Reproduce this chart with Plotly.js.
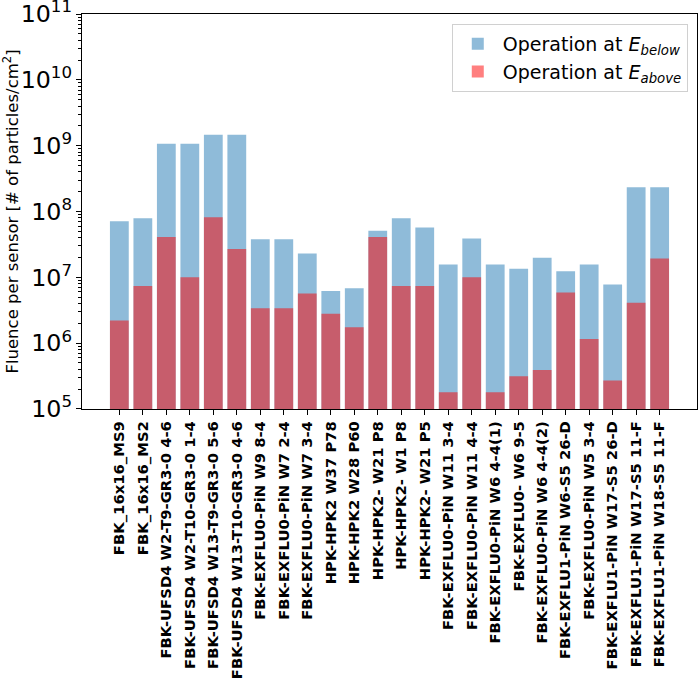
<!DOCTYPE html>
<html>
<head>
<meta charset="utf-8">
<script src="https://cdn.plot.ly/plotly-3.0.1.min.js"></script>
<style>
  html, body { margin: 0; padding: 0; background: #fff; }
  #chart { width: 699px; height: 679px; }
</style>
</head>
<body>
<div id="chart"></div>
<script>
const sensors = [
    'FBK_16x16_MS9', 'FBK_16x16_MS2',
    'FBK-UFSD4 W2-T9-GR3-0 4-6', 'FBK-UFSD4 W2-T10-GR3-0 1-4',
    'FBK-UFSD4 W13-T9-GR3-0 5-6', 'FBK-UFSD4 W13-T10-GR3-0 4-6',
    'FBK-EXFLU0-PiN W9 8-4', 'FBK-EXFLU0-PiN W7 2-4', 'FBK-EXFLU0-PiN W7 3-4',
    'HPK-HPK2 W37 P78', 'HPK-HPK2 W28 P60', 'HPK-HPK2- W21 P8',
    'HPK-HPK2- W1 P8', 'HPK-HPK2- W21 P5',
    'FBK-EXFLU0-PiN W11 3-4', 'FBK-EXFLU0-PiN W11 4-4',
    'FBK-EXFLU0-PiN W6 4-4(1)', 'FBK-EXFLU0- W6 9-5',
    'FBK-EXFLU0-PiN W6 4-4(2)', 'FBK-EXFLU1-PiN W6-S5 26-D',
    'FBK-EXFLU0-PiN W5 3-4', 'FBK-EXFLU1-PiN W17-S5 26-D',
    'FBK-EXFLU1-PiN W17-S5 11-F', 'FBK-EXFLU1-PiN W18-S5 11-F'
];

// fluence when operated at E_below
const fluenceBelow = [
    7.1e7, 7.9e7, 1.07e9, 1.07e9, 1.47e9, 1.47e9,
    3.8e7, 3.8e7, 2.3e7, 6.2e6, 6.8e6, 5.1e7,
    7.9e7, 5.7e7, 1.57e7, 3.9e7, 1.57e7, 1.35e7,
    1.98e7, 1.24e7, 1.57e7, 7.8e6, 2.33e8, 2.33e8
];

// fluence when operated at E_above
const fluenceAbove = [
    2.2e6, 7.4e6, 4.1e7, 1.0e7, 8.2e7, 2.7e7,
    3.4e6, 3.4e6, 5.7e6, 2.8e6, 1.74e6, 4.1e7,
    7.4e6, 7.4e6, 1.8e5, 1.0e7, 1.8e5, 3.15e5,
    3.9e5, 5.9e6, 1.16e6, 2.7e5, 4.1e6, 1.93e7
];

const FONT = 'DejaVu Sans, sans-serif';

const traces = [
    {
        type: 'bar',
        x: sensors,
        y: fluenceBelow,
        name: 'Operation at <i>E</i><sub><i>below</i></sub>',
        width: 0.8,
        marker: { color: 'rgba(31,119,180,0.5)', line: { width: 0 } },
    },
    {
        type: 'bar',
        x: sensors,
        y: fluenceAbove,
        name: 'Operation at <i>E</i><sub><i>above</i></sub>',
        width: 0.8,
        marker: { color: 'rgba(255,0,0,0.5)', line: { width: 0 } },
    },
];

const layout = {
    width: 699,
    height: 679,
    margin: { l: 82, r: 2, t: 14, b: 270 },
    paper_bgcolor: '#fff',
    plot_bgcolor: '#fff',
    barmode: 'overlay',
    font: { family: FONT, color: '#000', size: 16 },
    showlegend: true,
    legend: {
        x: 0.985, y: 0.975, xanchor: 'right', yanchor: 'top',
        bgcolor: 'rgba(255,255,255,0.8)',
        bordercolor: '#d0d0d0', borderwidth: 1,
        font: { family: FONT, size: 19 },
        itemwidth: 40,
    },
    xaxis: {
        type: 'category',
        range: [-1.59, 24.59],
        tickangle: -90,
        tickfont: { family: FONT, size: 14.8, weight: 'bold' },
        ticks: 'outside', ticklen: 5, tickcolor: '#000',
        showline: true, linecolor: '#000', linewidth: 1.2, mirror: true,
        showgrid: false, zeroline: false,
    },
    yaxis: {
        type: 'log',
        range: [4.9999, 11.0001],
        dtick: 1,
        exponentformat: 'power',
        ticklabeloverflow: 'allow',
        tickfont: { family: FONT, size: 19 },
        ticks: 'outside', ticklen: 5, tickcolor: '#000',
        minor: { ticks: 'outside', ticklen: 2.5, tickcolor: '#000', showgrid: false },
        showline: true, linecolor: '#000', linewidth: 1.2, mirror: true,
        showgrid: false, zeroline: false,
        title: {
            text: 'Fluence per sensor [# of particles/cm<sup>2</sup>]',
            font: { family: FONT, size: 16.5 },
            standoff: 4,
        },
    },
};

Plotly.newPlot('chart', traces, layout, { displayModeBar: false, staticPlot: true });
</script>
</body>
</html>
